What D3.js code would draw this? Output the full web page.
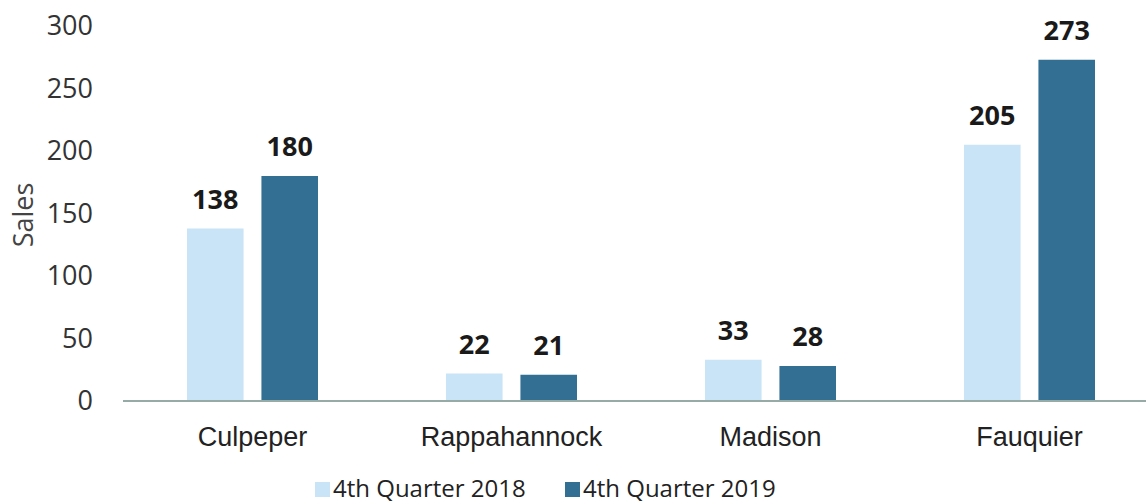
<!DOCTYPE html>
<html><head><meta charset="utf-8">
<script src="https://cdn.jsdelivr.net/npm/d3@7"></script>
<style>body{margin:0;background:#fff;} svg{display:block;}</style>
</head><body>
<svg id="chart" width="1146" height="504"></svg>
<script>
const categories = ["Culpeper", "Rappahannock", "Madison", "Fauquier"];
const seriesNames = ["4th Quarter 2018", "4th Quarter 2019"];
const q4_2018 = [138, 22, 33, 205];
const q4_2019 = [180, 21, 28, 273];
const yTicks = [0, 50, 100, 150, 200, 250, 300];
const colors = ["#c9e4f6", "#336f93"];

const svg = d3.select("#chart");
const y = d3.scaleLinear().domain([0, 300]).range([401, 26]);
const x0 = d3.scaleBand().domain(categories).range([123, 1159]).padding(0);
const x1 = d3.scaleBand().domain(seriesNames).range([0, x0.bandwidth()]).paddingInner(0.24).paddingOuter(0.86);
const values = [q4_2018, q4_2019];
const font = "'Open Sans', sans-serif";

// y axis
const ya = svg.append("g").attr("transform", "translate(123,0)")
  .call(d3.axisLeft(y).tickValues(yTicks).tickSize(0).tickPadding(30));
ya.select(".domain").remove();
ya.selectAll("text").attr("font-family", font).attr("font-size", 27).attr("fill", "#333");

svg.append("text").attr("transform", "translate(33,215) rotate(-90)")
  .attr("text-anchor", "middle").attr("font-family", font).attr("font-size", 27).attr("fill", "#444").text("Sales");

// bars
const groups = svg.selectAll("g.grp").data(categories).join("g").attr("class", "grp")
  .attr("transform", d => `translate(${x0(d)},0)`);
seriesNames.forEach((s, si) => {
  groups.append("rect")
    .attr("x", x1(s)).attr("width", x1.bandwidth())
    .attr("y", (d, i) => y(values[si][i])).attr("height", (d, i) => y(0) - y(values[si][i]))
    .attr("fill", colors[si]);
  groups.append("text")
    .attr("x", x1(s) + x1.bandwidth() / 2).attr("y", (d, i) => y(values[si][i]) - 20)
    .attr("text-anchor", "middle").attr("font-family", font).attr("font-weight", "bold")
    .attr("font-size", 27).attr("fill", "#1a1a1a").text((d, i) => values[si][i]);
});

// x axis
svg.append("line").attr("x1", 123).attr("x2", 1146).attr("y1", y(0)).attr("y2", y(0))
  .attr("stroke", "#97aba6").attr("stroke-width", 2);
const xa = svg.append("g").attr("transform", `translate(0,${y(0)})`)
  .call(d3.axisBottom(x0).tickSize(0).tickPadding(26));
xa.select(".domain").remove();
xa.selectAll("text").attr("font-family", "'Liberation Sans', Arial, sans-serif").attr("font-size", 27).attr("fill", "#222");

// legend
const legX = [315, 565];
seriesNames.forEach((s, i) => {
  svg.append("rect").attr("x", legX[i]).attr("y", 482).attr("width", 15).attr("height", 15).attr("fill", colors[i]);
  svg.append("text").attr("x", legX[i] + 18).attr("y", 497).attr("font-family", font).attr("font-size", 24)
    .attr("fill", "#222").text(s);
});
</script>
</body></html>
